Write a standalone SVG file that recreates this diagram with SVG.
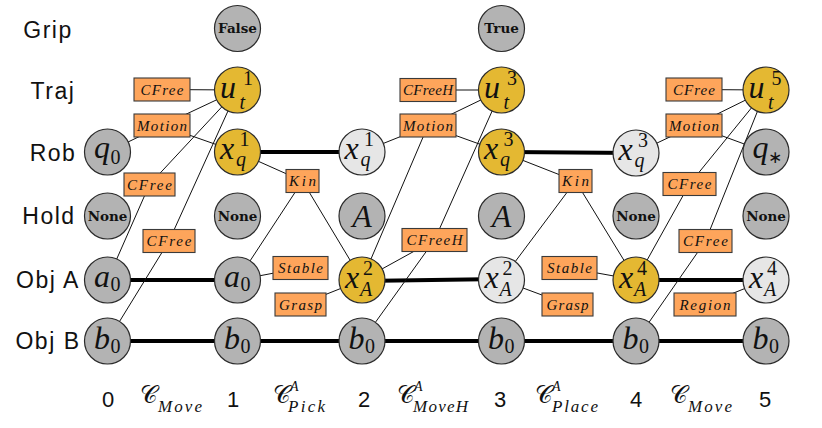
<svg xmlns="http://www.w3.org/2000/svg" width="822" height="428" viewBox="0 0 822 428">
<style>
.lbl{font-family:"Liberation Sans",Arial,sans-serif;font-size:23px;letter-spacing:1.5px;fill:#111;text-anchor:middle}
.num{font-family:"Liberation Sans",Arial,sans-serif;font-size:22px;fill:#111;text-anchor:middle}
.g{fill:#b3b3b3;stroke:#2b2b2b;stroke-width:1.2}
.y{fill:#e4b832;stroke:#2b2b2b;stroke-width:1.2}
.w{fill:#e6e6e6;stroke:#2b2b2b;stroke-width:1.2}
.box{fill:#fea55b;stroke:#3a3a3a;stroke-width:1.1}
.m{font-family:"Liberation Serif","Times New Roman",serif;font-style:italic;font-size:32px;fill:#111}
.s{font-size:20px}
.up{font-style:normal}
.ast{font-family:"DejaVu Sans",sans-serif;font-style:normal;font-size:17px}
.bold{font-family:"DejaVu Serif",serif;font-weight:bold;font-size:13.5px;fill:#111;text-anchor:middle}
.bl{font-family:"Liberation Serif","Times New Roman",serif;font-style:italic;font-size:15px;fill:#111;text-anchor:middle}
.cal{font-family:"DejaVu Sans","DejaVu Serif",serif;font-size:24px;fill:#111}
.sub{font-family:"Liberation Serif","Times New Roman",serif;font-style:italic;font-size:17px;fill:#111}
.sup{font-family:"Liberation Serif","Times New Roman",serif;font-style:italic;font-size:14px;fill:#111}
.c{stroke:#111;stroke-width:1;fill:none}
.eq{stroke:#000;stroke-width:4;fill:none}
</style>

<g id="row-labels">
<text class="lbl" x="48" y="38">Grip</text>
<text class="lbl" x="53" y="99">Traj</text>
<text class="lbl" x="53" y="161">Rob</text>
<text class="lbl" x="49" y="224">Hold</text>
<text class="lbl" x="48" y="288">Obj A</text>
<text class="lbl" x="48" y="349">Obj B</text>
</g>

<g id="connectors">
<line class="eq" x1="107.5" y1="280" x2="237.5" y2="280"/>
<line class="eq" x1="107.5" y1="341" x2="766" y2="341"/>
<line class="eq" x1="237.5" y1="152" x2="362" y2="152"/>
<line class="eq" x1="362" y1="281" x2="501.5" y2="279"/>
<line class="eq" x1="501.5" y1="152" x2="636" y2="153"/>
<line class="eq" x1="636" y1="280" x2="766" y2="280"/>
<line class="c" x1="162" y1="89.5" x2="237.5" y2="90"/>
<line class="c" x1="162" y1="125.5" x2="107.5" y2="152"/>
<line class="c" x1="162" y1="125.5" x2="237.5" y2="90"/>
<line class="c" x1="162" y1="125.5" x2="237.5" y2="152"/>
<line class="c" x1="149.5" y1="184.5" x2="107.5" y2="280"/>
<line class="c" x1="149.5" y1="184.5" x2="237.5" y2="90"/>
<line class="c" x1="169" y1="241" x2="107.5" y2="341"/>
<line class="c" x1="169" y1="241" x2="237.5" y2="90"/>
<line class="c" x1="302.5" y1="181" x2="237.5" y2="152"/>
<line class="c" x1="302.5" y1="181" x2="237.5" y2="280"/>
<line class="c" x1="302.5" y1="181" x2="362" y2="280"/>
<line class="c" x1="300.5" y1="268" x2="237.5" y2="280"/>
<line class="c" x1="300.5" y1="304.5" x2="362" y2="280"/>
<line class="c" x1="428" y1="90" x2="501.5" y2="90"/>
<line class="c" x1="428" y1="125.5" x2="362" y2="152"/>
<line class="c" x1="428" y1="125.5" x2="501.5" y2="90"/>
<line class="c" x1="428" y1="125.5" x2="501.5" y2="152"/>
<line class="c" x1="428" y1="125.5" x2="362" y2="280"/>
<line class="c" x1="434.5" y1="240" x2="501.5" y2="90"/>
<line class="c" x1="434.5" y1="240" x2="362" y2="341"/>
<line class="c" x1="434.5" y1="240" x2="362" y2="280"/>
<line class="c" x1="575.5" y1="181" x2="501.5" y2="152"/>
<line class="c" x1="575.5" y1="181" x2="501.5" y2="280"/>
<line class="c" x1="575.5" y1="181" x2="636" y2="280"/>
<line class="c" x1="569.5" y1="268" x2="636" y2="280"/>
<line class="c" x1="567.5" y1="304.5" x2="501.5" y2="280"/>
<line class="c" x1="694" y1="89.5" x2="766" y2="90"/>
<line class="c" x1="694" y1="125.5" x2="636" y2="153"/>
<line class="c" x1="694" y1="125.5" x2="766" y2="90"/>
<line class="c" x1="694" y1="125.5" x2="766" y2="152"/>
<line class="c" x1="689.5" y1="184" x2="766" y2="90"/>
<line class="c" x1="689.5" y1="184" x2="636" y2="280"/>
<line class="c" x1="705.5" y1="241" x2="766" y2="90"/>
<line class="c" x1="705.5" y1="241" x2="636" y2="341"/>
<line class="c" x1="705" y1="304.5" x2="766" y2="280"/>
</g>

<g id="constraints">
<g id="k-cfree-1"><rect class="box" x="134" y="78" width="56" height="23"/><text class="bl" x="162" y="94.5" textLength="43">CFree</text></g>
<g id="k-motion-1"><rect class="box" x="134" y="114" width="56" height="23"/><text class="bl" x="162" y="130.5" textLength="50">Motion</text></g>
<g id="k-cfree-2"><rect class="box" x="124" y="173" width="51" height="23"/><text class="bl" x="149.5" y="189.5" textLength="45">CFree</text></g>
<g id="k-cfree-3"><rect class="box" x="143" y="229.5" width="52" height="23"/><text class="bl" x="169" y="246" textLength="45">CFree</text></g>
<g id="k-kin-1"><rect class="box" x="286" y="169.5" width="33" height="23"/><text class="bl" x="302.5" y="186" textLength="27">Kin</text></g>
<g id="k-stable-1"><rect class="box" x="273" y="256.5" width="55" height="23"/><text class="bl" x="300.5" y="273" textLength="45">Stable</text></g>
<g id="k-grasp-1"><rect class="box" x="275" y="293" width="51" height="23"/><text class="bl" x="300.5" y="309.5" textLength="43">Grasp</text></g>
<g id="k-cfreeh-1"><rect class="box" x="400" y="78.5" width="56" height="23"/><text class="bl" x="428" y="95" textLength="50">CFreeH</text></g>
<g id="k-motion-2"><rect class="box" x="400" y="114" width="56" height="23"/><text class="bl" x="428" y="130.5" textLength="50">Motion</text></g>
<g id="k-cfreeh-2"><rect class="box" x="402" y="228.5" width="65" height="23"/><text class="bl" x="434.5" y="245" textLength="56">CFreeH</text></g>
<g id="k-kin-2"><rect class="box" x="559" y="169.5" width="33" height="23"/><text class="bl" x="575.5" y="186" textLength="27">Kin</text></g>
<g id="k-stable-2"><rect class="box" x="542" y="256.5" width="55" height="23"/><text class="bl" x="569.5" y="273" textLength="45">Stable</text></g>
<g id="k-grasp-2"><rect class="box" x="542" y="293" width="51" height="23"/><text class="bl" x="567.5" y="309.5" textLength="42">Grasp</text></g>
<g id="k-cfree-4"><rect class="box" x="666" y="78" width="56" height="23"/><text class="bl" x="694" y="94.5" textLength="42">CFree</text></g>
<g id="k-motion-3"><rect class="box" x="666" y="114" width="56" height="23"/><text class="bl" x="694" y="130.5" textLength="50">Motion</text></g>
<g id="k-cfree-5"><rect class="box" x="663" y="172.5" width="53" height="23"/><text class="bl" x="689.5" y="189" textLength="44">CFree</text></g>
<g id="k-cfree-6"><rect class="box" x="679" y="229.5" width="53" height="23"/><text class="bl" x="705.5" y="246" textLength="45">CFree</text></g>
<g id="k-region"><rect class="box" x="674" y="293" width="62" height="23"/><text class="bl" x="705" y="309.5" textLength="51">Region</text></g>
</g>

<g id="nodes">
<g id="n-q0"><circle class="g" cx="107.5" cy="152" r="23"/><text class="m"><tspan x="94" y="158">q</tspan><tspan class="s up" x="110.5" y="164">0</tspan></text></g>
<g id="n-hold0"><circle class="g" cx="107.5" cy="216" r="23"/><text class="bold" x="107.5" y="220.5">None</text></g>
<g id="n-a0-0"><circle class="g" cx="107.5" cy="280" r="23"/><text class="m"><tspan x="94" y="287">a</tspan><tspan class="s up" x="110.5" y="291">0</tspan></text></g>
<g id="n-b0-0"><circle class="g" cx="107.5" cy="341" r="23"/><text class="m"><tspan x="94" y="349">b</tspan><tspan class="s up" x="110.5" y="353">0</tspan></text></g>

<g id="n-grip1"><circle class="g" cx="237.5" cy="28.5" r="23"/><text class="bold" x="237.5" y="33">False</text></g>
<g id="n-ut1"><circle class="y" cx="237.5" cy="90" r="23"/><text class="m"><tspan x="220" y="98">u</tspan><tspan class="s up" x="243" y="85">1</tspan><tspan class="s" x="239.5" y="109">t</tspan></text></g>
<g id="n-xq1"><circle class="y" cx="237.5" cy="152" r="23"/><text class="m"><tspan x="220" y="159">x</tspan><tspan class="s up" x="239.5" y="146">1</tspan><tspan class="s" x="236" y="166">q</tspan></text></g>
<g id="n-hold1"><circle class="g" cx="237.5" cy="216" r="23"/><text class="bold" x="237.5" y="220.5">None</text></g>
<g id="n-a0-1"><circle class="g" cx="237.5" cy="280" r="23"/><text class="m"><tspan x="224" y="287">a</tspan><tspan class="s up" x="240.5" y="291">0</tspan></text></g>
<g id="n-b0-1"><circle class="g" cx="237.5" cy="341" r="23"/><text class="m"><tspan x="224" y="349">b</tspan><tspan class="s up" x="240.5" y="353">0</tspan></text></g>

<g id="n-xq1-2"><circle class="w" cx="362" cy="152" r="23"/><text class="m"><tspan x="344.5" y="159">x</tspan><tspan class="s up" x="364" y="146">1</tspan><tspan class="s" x="360.5" y="166">q</tspan></text></g>
<g id="n-hold2"><circle class="g" cx="362" cy="216" r="23"/><text class="m" x="362" y="227" font-size="33" text-anchor="middle">A</text></g>
<g id="n-xA2"><circle class="y" cx="362" cy="280" r="23"/><text class="m"><tspan x="345" y="288">x</tspan><tspan class="s up" x="363" y="275">2</tspan><tspan class="s" x="360" y="296">A</tspan></text></g>
<g id="n-b0-2"><circle class="g" cx="362" cy="341" r="23"/><text class="m"><tspan x="348.5" y="349">b</tspan><tspan class="s up" x="365" y="353">0</tspan></text></g>

<g id="n-grip3"><circle class="g" cx="501.5" cy="28.5" r="23"/><text class="bold" x="501.5" y="33">True</text></g>
<g id="n-ut3"><circle class="y" cx="501.5" cy="90" r="23"/><text class="m"><tspan x="484" y="98">u</tspan><tspan class="s up" x="507" y="85">3</tspan><tspan class="s" x="503.5" y="109">t</tspan></text></g>
<g id="n-xq3"><circle class="y" cx="501.5" cy="152" r="23"/><text class="m"><tspan x="484" y="159">x</tspan><tspan class="s up" x="503.5" y="146">3</tspan><tspan class="s" x="500" y="166">q</tspan></text></g>
<g id="n-hold3"><circle class="g" cx="501.5" cy="216" r="23"/><text class="m" x="501.5" y="227" font-size="33" text-anchor="middle">A</text></g>
<g id="n-xA2-3"><circle class="w" cx="501.5" cy="280" r="23"/><text class="m"><tspan x="484.5" y="288">x</tspan><tspan class="s up" x="502.5" y="275">2</tspan><tspan class="s" x="499.5" y="296">A</tspan></text></g>
<g id="n-b0-3"><circle class="g" cx="501.5" cy="341" r="23"/><text class="m"><tspan x="488" y="349">b</tspan><tspan class="s up" x="504.5" y="353">0</tspan></text></g>

<g id="n-xq3-4"><circle class="w" cx="636" cy="153" r="23"/><text class="m"><tspan x="618.5" y="160">x</tspan><tspan class="s up" x="638" y="147">3</tspan><tspan class="s" x="634.5" y="167">q</tspan></text></g>
<g id="n-hold4"><circle class="g" cx="636" cy="216" r="23"/><text class="bold" x="636" y="220.5">None</text></g>
<g id="n-xA4"><circle class="y" cx="636" cy="280" r="23"/><text class="m"><tspan x="619" y="288">x</tspan><tspan class="s up" x="637" y="275">4</tspan><tspan class="s" x="634" y="296">A</tspan></text></g>
<g id="n-b0-4"><circle class="g" cx="636" cy="341" r="23"/><text class="m"><tspan x="622.5" y="349">b</tspan><tspan class="s up" x="639" y="353">0</tspan></text></g>

<g id="n-ut5"><circle class="y" cx="766" cy="90" r="23"/><text class="m"><tspan x="748.5" y="98">u</tspan><tspan class="s up" x="771.5" y="85">5</tspan><tspan class="s" x="768" y="109">t</tspan></text></g>
<g id="n-qstar"><circle class="g" cx="766" cy="152" r="23"/><text class="m"><tspan x="752.5" y="158">q</tspan><tspan class="ast" x="768" y="163">∗</tspan></text></g>
<g id="n-hold5"><circle class="g" cx="766" cy="216" r="23"/><text class="bold" x="766" y="220.5">None</text></g>
<g id="n-xA4-5"><circle class="w" cx="766" cy="280" r="23"/><text class="m"><tspan x="749" y="288">x</tspan><tspan class="s up" x="767" y="275">4</tspan><tspan class="s" x="764" y="296">A</tspan></text></g>
<g id="n-b0-5"><circle class="g" cx="766" cy="341" r="23"/><text class="m"><tspan x="752.5" y="349">b</tspan><tspan class="s up" x="769" y="353">0</tspan></text></g>
</g>

<g id="axis">
<text class="num" x="108" y="407">0</text>
<text class="num" x="233" y="407">1</text>
<text class="num" x="364" y="407">2</text>
<text class="num" x="500" y="407">3</text>
<text class="num" x="636" y="407">4</text>
<text class="num" x="765" y="407">5</text>
<text class="cal" x="140" y="403">𝒞</text><text class="sub" x="158" y="412" textLength="44">Move</text>
<text class="cal" x="273" y="403">𝒞</text><text class="sup" x="290" y="391">A</text><text class="sub" x="288" y="412" textLength="37">Pick</text>
<text class="cal" x="397" y="403">𝒞</text><text class="sup" x="414" y="391">A</text><text class="sub" x="413" y="412" textLength="55">MoveH</text>
<text class="cal" x="535" y="403">𝒞</text><text class="sup" x="552" y="391">A</text><text class="sub" x="552" y="412" textLength="46">Place</text>
<text class="cal" x="670" y="403">𝒞</text><text class="sub" x="688" y="412" textLength="44">Move</text>
</g>
</svg>
